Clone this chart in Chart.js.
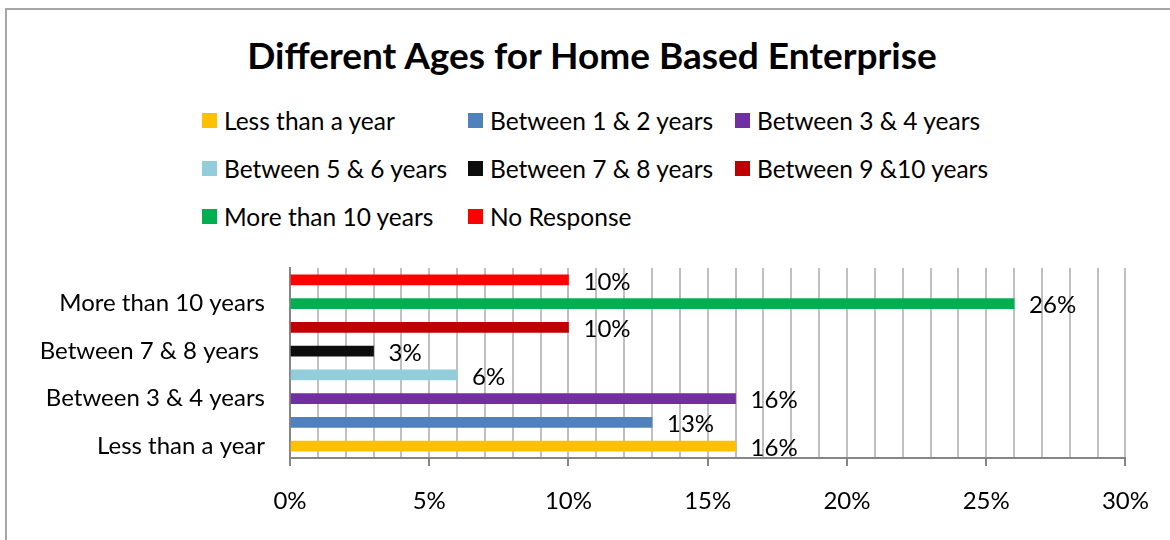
<!DOCTYPE html>
<html>
<head>
<meta charset="utf-8">
<script src="https://cdn.jsdelivr.net/npm/chart.js@4/dist/chart.umd.min.js"></script>
<style>
    html, body { margin: 0; padding: 0; background: #fff; }
    #wrap { position: relative; width: 1170px; height: 540px; overflow: hidden; font-family: Lato, 'Open Sans', sans-serif; }
    #frame { position: absolute; left: 5px; top: 8px; width: 1200px; height: 600px; border-left: 2px solid #a6a6a6; border-top: 2px solid #a6a6a6; box-sizing: border-box; }
    #title { position: absolute; left: 0; width: 1184px; top: 33px; line-height: 44px; text-align: center; font-weight: bold; font-size: 37px; color: #000; }
    #legend { position: absolute; left: 202px; top: 106px; display: grid; grid-template-columns: 266px 267px 300px; row-gap: 20px; font-size: 24.5px; color: #000; }
    .item { display: flex; align-items: center; height: 28px; white-space: nowrap; }
    .box { width: 15px; height: 15px; margin-right: 7px; flex: none; }
    canvas { position: absolute; left: 0; top: 0; }
</style>
</head>
<body>
<div id="wrap">
    <div id="frame"></div>
    <div id="title">Different Ages for Home Based Enterprise</div>
    <div id="legend"></div>
    <canvas id="agesChart" width="1170" height="540"></canvas>
</div>
<script>
// Data (bottom to top)
const categories = [
    'Less than a year',
    'Between 1 & 2 years',
    'Between 3 & 4 years',
    'Between 5 & 6 years',
    'Between 7 & 8 years ',
    'Between 9 &10 years',
    'More than 10 years',
    'No Response'
];
const percentages = [16, 13, 16, 6, 3, 10, 26, 10];
const barColors = ['#FFC000', '#4F81BD', '#7030A0', '#92CDDC', '#0D0D0D', '#C00000', '#00B050', '#FF0000'];
const xTickLabels = ['0%', '5%', '10%', '15%', '20%', '25%', '30%'];

document.addEventListener('DOMContentLoaded', function() {
    // Legend (three columns, like the original)
    const legend = document.getElementById('legend');
    categories.forEach(function(name, i) {
        const item = document.createElement('div');
        item.className = 'item';
        item.innerHTML = '<span class="box" style="background:' + barColors[i] + '"></span>' + name.trim();
        legend.appendChild(item);
    });

    // Value labels at the end of each bar
    const valueLabels = {
        id: 'valueLabels',
        afterDatasetsDraw(chart) {
            const ctx = chart.ctx;
            const meta = chart.getDatasetMeta(0);
            ctx.save();
            ctx.font = '24px Lato, sans-serif';
            ctx.fillStyle = '#000';
            ctx.textAlign = 'left';
            ctx.textBaseline = 'middle';
            meta.data.forEach(function(bar, i) {
                ctx.fillText(percentages[i] + '%', bar.x + 15, bar.y + 2);
            });
            ctx.restore();
        }
    };

    new Chart(document.getElementById('agesChart'), {
        type: 'bar',
        data: {
            labels: categories,
            datasets: [{
                data: percentages,
                backgroundColor: barColors,
                borderWidth: 0,
                barThickness: 10
            }]
        },
        plugins: [valueLabels],
        options: {
            indexAxis: 'y',
            responsive: false,
            animation: false,
            layout: { padding: { top: 268, left: 0, right: 44, bottom: 0 } },
            plugins: {
                legend: { display: false },
                tooltip: { enabled: false }
            },
            scales: {
                x: {
                    min: 0,
                    max: 30,
                    ticks: {
                        stepSize: 1,
                        autoSkip: false,
                        maxRotation: 0,
                        padding: 21,
                        color: '#000',
                        font: { family: 'Lato', size: 24 },
                        callback: function(value) {
                            return value % 5 === 0 ? xTickLabels[value / 5] : '';
                        }
                    },
                    grid: {
                        color: '#c0c0c0',
                        lineWidth: 2,
                        tickLength: 8,
                        tickColor: function(ctx) {
                            return ctx.tick && ctx.tick.value % 5 === 0 ? '#868686' : 'rgba(0,0,0,0)';
                        }
                    },
                    border: { display: true, color: '#868686', width: 2 },
                    afterFit: function(scale) { scale.height = 82; }
                },
                y: {
                    reverse: true,
                    ticks: {
                        autoSkip: false,
                        padding: 25,
                        color: '#000',
                        font: { family: 'Lato', size: 24 },
                        callback: function(value, index) {
                            return index % 2 === 0 ? categories[index] : '';
                        }
                    },
                    grid: { display: false, drawTicks: false },
                    border: { display: true, color: '#868686', width: 2 },
                    afterFit: function(scale) { scale.width = 290; }
                }
            }
        }
    });
});
</script>
</body>
</html>
